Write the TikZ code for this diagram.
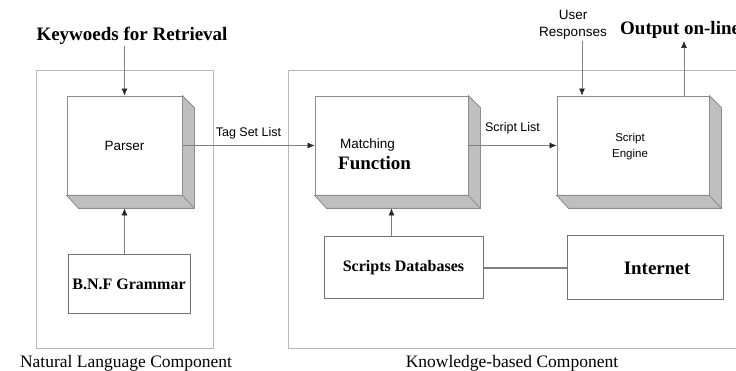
\documentclass[tikz,border=0pt]{standalone}
\usepackage{fontspec}
\setmainfont{Liberation Serif}
\newfontfamily\arialfont{Liberation Sans}
\usetikzlibrary{arrows.meta}
\begin{document}
\begin{tikzpicture}[
    x=1pt, y=-1pt,
    panel/.style={draw=black!28, line width=0.8pt},
    slab/.style={rectangle, draw=black!45, fill=white, line width=0.8pt, inner sep=0pt, font=\arialfont\fontsize{13.5}{16}\selectfont, align=center},
    slab_side/.style={draw=black!45, fill=black!25, line width=0.8pt},
    plain_box/.style={rectangle, draw=black!55, line width=1pt, inner sep=0pt, font=\bfseries\fontsize{16}{18}\selectfont},
    sans_text/.style={font=\arialfont\fontsize{12.5}{16}\selectfont, align=center, inner sep=1pt},
    head_text/.style={font=\bfseries\fontsize{19}{21}\selectfont, inner sep=1pt},
    caption_text/.style={font=\fontsize{17.5}{20}\selectfont, inner sep=1pt},
    arrow/.style={-{Latex[length=7pt,width=6pt,color=black!85]}, draw=black!50, line width=0.7pt}
]
    \useasboundingbox (0,0) rectangle (736,371);
    \clip (0,0) rectangle (736,371);

    % Component panels
    \draw[panel] (36,70) rectangle (213,348);
    \draw[panel] (288,70) rectangle (760,348);
    \node[caption_text] (nlc) at (126,363) {Natural Language Component};
    \node[caption_text] (kbc) at (512,363) {Knowledge-based Component};

    % Slabs
    \node[slab, minimum width=115pt, minimum height=99pt] (parser) at (124.5,145.5) {Parser};
    \node[slab, minimum width=153pt, minimum height=99pt] (match) at (391.5,145.5) {};
    \node[slab, minimum width=152pt, minimum height=99pt] (engine) at (633,145.5) {};
    \foreach \n in {parser,match,engine}{
        \filldraw[slab_side] (\n.north east) -- ++(12,12) -- ([shift={(12,13)}]\n.south east)
            -- ([shift={(12,13)}]\n.south west) -- (\n.south west) -- (\n.south east) -- cycle;
        \draw[slab_side] (\n.south east) -- ++(12,13);
    }
    \node[inner sep=0pt, anchor=west, font=\arialfont\fontsize{13.5}{16}\selectfont] (matching) at (340,145) {Matching};
    \node[inner sep=0pt, anchor=west, font=\bfseries\fontsize{19}{21}\selectfont] (function) at (338,163) {Function};
    \node[inner sep=0pt, align=center, font=\arialfont\fontsize{11.5}{16}\selectfont] (enginetext) at (630,147) {Script\\Engine};

    % Plain boxes
    \node[plain_box, minimum width=122pt, minimum height=58pt] (bnf) at (129,284) {B.N.F Grammar};
    \node[plain_box, minimum width=159pt, minimum height=62pt] (sdb) at (403.5,268) {Scripts Databases};
    \node[plain_box, minimum width=156pt, minimum height=64pt, font=\bfseries\fontsize{19}{21}\selectfont] (inet) at (645,268) {\hspace*{24pt}Internet};

    % Outside texts
    \node[head_text] (keywords) at (132,36) {Keywoeds for Retrieval};
    \node[sans_text, font=\arialfont\fontsize{13.5}{17}\selectfont] (users) at (573,25) {User\\Responses};
    \node[head_text, anchor=west] (output) at (619,30) {Output on-line};
    \coordinate (outtip) at (684,41);

    % Arrows
    \draw[arrow] (keywords.south -| parser.north) -- (parser.north);
    \draw[arrow] (bnf.north -| parser.south) -- ([yshift=-13pt]parser.south);
    \draw[arrow] (parser.east) -- node[sans_text, above=5pt] (tagset) {Tag Set List} (match.west);
    \draw[arrow] (match.east) -- node[sans_text, above=10pt] (scriptlist) {Script List} (engine.west);
    \draw[arrow] (sdb.north -| match.south) -- ([yshift=-13pt]match.south);
    \draw[arrow] ([xshift=9pt]users.south) -- ([xshift=9pt]users.south |- engine.north);
    \draw[arrow] (engine.north -| outtip) -- (outtip);
    \draw[draw=black!50, line width=1.2pt] (sdb.east) -- (inet.west);
\end{tikzpicture}
\end{document}
